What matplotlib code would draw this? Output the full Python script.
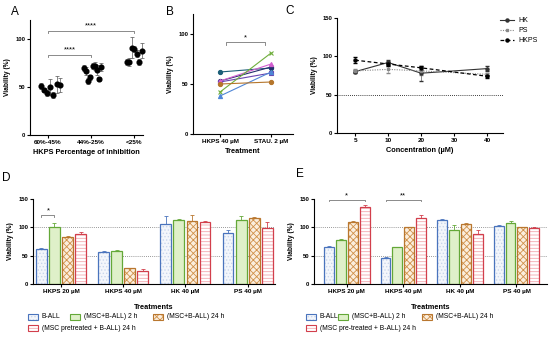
import numpy as np
import matplotlib
matplotlib.use('Agg')
import matplotlib.pyplot as plt
from matplotlib.patches import Rectangle
from matplotlib.lines import Line2D

plt.rcParams['font.family'] = ['Liberation Sans', 'DejaVu Sans']
plt.rcParams['hatch.linewidth'] = 0.6
plt.rcParams['axes.linewidth'] = 0.8

# ---- panel A data
a_groups = ['60%-45%', '44%-25%', '<25%']
a_vals = [[51, 47, 44, 50, 42, 53, 52],
          [70, 67, 56, 60, 72, 72, 68, 58, 71],
          [76, 76, 91, 90, 85, 76, 88]]
a_errs = [[3, 2, 3, 8, 3, 9, 7],
          [3, 4, 3, 3, 3, 4, 5, 2, 4],
          [3, 4, 11, 3, 4, 3, 8]]

# ---- panel B data (paired)
b_ticks = ['HKPS 40 µM', 'STAU. 2 µM']
b_hkps = [62, 53, 52, 53, 42, 38, 50]
b_stau = [66, 67, 61, 70, 81, 62, 52]
b_colors = ['#1d5f78', '#25306e', '#6a44b0', '#d25fcf', '#6fae3c', '#4f86d6', '#b5762c']
b_markers = ['o', 'o', 's', '^', 'x', '^', 'o']

# ---- panel C data
c_ticks = ['5', '10', '20', '30', '40']
c_conc = ['5', '10', '20', '40']
c_hk = [80, 92, 78, 84]
c_hk_err = [2, 3, 10, 3]
c_ps = [81, 83, 81, 76.5]
c_ps_err = [2, 5, 5, 2]
c_hkps = [95, 90, 85, 74]
c_hkps_err = [4, 2, 3, 2]

# ---- panels D / E data
treat = ['HKPS 20 µM', 'HKPS 40 µM', 'HK 40 µM', 'PS 40 µM']
d_ball = [62, 57, 106, 90]
d_ball_err = [2, 1, 14, 5]
d_2h = [100, 59, 113, 113]
d_2h_err = [8, 1, 2, 7]
d_24h = [83, 28, 111, 116]
d_24h_err = [1, 1, 11, 2]
d_pre = [88, 23, 109, 99]
d_pre_err = [4, 3, 3, 11]

e_ball = [66, 46, 113, 103]
e_ball_err = [1, 2, 1, 1]
e_2h = [78, 65, 96, 107]
e_2h_err = [2, 1, 8, 5]
e_24h = [109, 100, 106, 100]
e_24h_err = [3, 1, 1, 0.5]
e_pre = [136, 117, 89, 99]
e_pre_err = [3, 4, 7, 2]

d_labels = ['B-ALL', '(MSC+B-ALL) 2 h', '(MSC+B-ALL) 24 h', '(MSC pretreated + B-ALL) 24 h']
e_labels = ['B-ALL', '(MSC+B-ALL) 2 h', '(MSC+B-ALL) 24 h', '(MSC pre-treated + B-ALL) 24 h']

W, H = 550, 337
fig = plt.figure(figsize=(W / 100, H / 100), dpi=100)


def px_axes(l, t, r, b):
    return fig.add_axes([l / W, 1 - b / H, (r - l) / W, (b - t) / H])


def style(ax):
    for s in ['top', 'right']:
        ax.spines[s].set_visible(False)
    ax.tick_params(length=2, width=0.8, pad=1.5)
    for lbl in ax.get_xticklabels():
        lbl.set_fontsize(4.6)
        lbl.set_fontweight('bold')
    for lbl in ax.get_yticklabels():
        lbl.set_fontsize(4.2)
        lbl.set_fontweight('bold')


def bracket(ax, x0, x1, y, txt, drop=4, color='#777777'):
    ax.plot([x0, x0, x1, x1], [y - drop, y, y, y - drop], color=color, lw=0.6, clip_on=False)
    ax.text((x0 + x1) / 2, y + 1, txt, ha='center', va='bottom', fontsize=5.5, clip_on=False)


# ================= A
axA = px_axes(30, 20, 143, 135)
spreads = [(-0.17, 0.27), (-0.17, 0.23), (-0.17, 0.17)]
for i, (vals, errs) in enumerate(zip(a_vals, a_errs)):
    xs = i + np.linspace(spreads[i][0], spreads[i][1], len(vals))
    axA.errorbar(xs, vals, yerr=errs, fmt='o', color='black', ms=3.4,
                 ecolor='#555555', elinewidth=0.5, capsize=1.5, capthick=0.5, clip_on=False)
axA.set_xlim(-0.42, 2.2)
axA.set_ylim(0, 120)
axA.set_yticks([0, 50, 100])
axA.set_xticks(range(3))
axA.set_xticklabels(a_groups)
axA.set_ylabel('Viability (%)', fontsize=4.8, fontweight='bold', labelpad=3)
axA.set_xlabel('HKPS Percentage of inhibition', fontsize=5.3, fontweight='bold', labelpad=3)
style(axA)
bracket(axA, 0, 1, 84, '****', drop=3)
bracket(axA, 0, 2, 109, '****', drop=3)

# ================= B
axB = px_axes(193, 14, 293, 134)
for v0, v1, c, m in zip(b_hkps, b_stau, b_colors, b_markers):
    axB.plot([0, 1], [v0, v1], color=c, marker=m, ms=3, lw=0.8, mew=0.8)
axB.set_xlim(-0.53, 1.43)
axB.set_ylim(0, 120)
axB.set_yticks([0, 50, 100])
axB.set_xticks([0, 1])
axB.set_xticklabels(b_ticks)
axB.set_ylabel('Viability (%)', fontsize=4.8, fontweight='bold', labelpad=3)
axB.set_xlabel('Treatment', fontsize=5.3, fontweight='bold', labelpad=3)
style(axB)
bracket(axB, 0.12, 0.88, 92, '*', drop=3)

# ================= C
axC = px_axes(337, 18, 503, 133)
cx = [c_ticks.index(c) for c in c_conc]
c_styles = [
    (c_hk, c_hk_err, 'HK', dict(color='#333333', lw=0.8, ls='-', marker='o', ms=2.2)),
    (c_ps, c_ps_err, 'PS', dict(color='#888888', lw=0.8, ls=(0, (1, 1.2)), marker='s', ms=2)),
    (c_hkps, c_hkps_err, 'HKPS', dict(color='black', lw=0.9, ls=(0, (3, 2)), marker='o', ms=2.2)),
]
handles = []
for vals, err, lab, kw in c_styles:
    axC.errorbar(cx, vals, yerr=err, elinewidth=0.4, capsize=1.2, ecolor=kw['color'], **kw)
    handles.append(Line2D([], [], label=lab, **kw))
axC.axhline(50, color='black', lw=0.6, ls=(0, (1, 1.5)))
axC.set_xlim(-0.55, 4.48)
axC.set_ylim(0, 150)
axC.set_yticks([0, 50, 100, 150])
axC.set_xticks(range(len(c_ticks)))
axC.set_xticklabels(c_ticks)
axC.set_ylabel('Viability (%)', fontsize=4.8, fontweight='bold', labelpad=3)
axC.set_xlabel('Concentration (µM)', fontsize=5.3, fontweight='bold', labelpad=3)
style(axC)
axC.legend(handles=handles, loc='upper left', bbox_to_anchor=(494 / W, 1 - 11 / H),
           bbox_transform=fig.transFigure, frameon=False, fontsize=5, handlelength=2,
           labelspacing=0.45, handletextpad=0.6)

# ================= D / E
bar_styles = [
    dict(face='#f3f6fb', hatch='.....', hcol='#c9d6ec', edge='#4a74bd'),
    dict(face='#dff0c9', hatch=None, hcol=None, edge='#64a838'),
    dict(face='#fbeedd', hatch='xxxxx', hcol='#d0914a', edge='#b9772f'),
    dict(face='white', hatch='-----', hcol='#f3a9b0', edge='#d23f4c'),
]
BW, STEP = 0.175, 0.21


def bars(ax, series, errs):
    x = np.arange(len(treat))
    for k, (vals, err, st) in enumerate(zip(series, errs, bar_styles)):
        xs = x + (k - 1.5) * STEP
        ax.bar(xs, vals, BW, color=st['face'], hatch=st['hatch'],
               edgecolor=st['hcol'] if st['hatch'] else st['face'], lw=0, zorder=2)
        ax.bar(xs, vals, BW, fill=False, edgecolor=st['edge'], lw=0.9, zorder=3)
        ax.errorbar(xs, vals, yerr=[np.zeros(len(vals)), err], fmt='none', ecolor=st['edge'],
                    elinewidth=0.6, capsize=1.6, capthick=0.6, zorder=1)
    for y in (50, 100):
        ax.axhline(y, color='#777777', lw=0.6, ls=(0, (1, 1.5)), zorder=0)
    ax.set_ylim(0, 150)
    ax.set_yticks([0, 50, 100, 150])
    ax.set_xticks(x)
    ax.set_xticklabels(treat)
    ax.set_ylabel('Viability (%)', fontsize=4.8, fontweight='bold', labelpad=3)
    ax.set_xlabel('Treatments', fontsize=5.3, fontweight='bold', labelpad=7)
    style(ax)


axD = px_axes(33, 199, 275, 284)
bars(axD, [d_ball, d_2h, d_24h, d_pre], [d_ball_err, d_2h_err, d_24h_err, d_pre_err])
axD.set_xlim(-0.45, 3.44)
bracket(axD, -1.5 * STEP, -0.5 * STEP, 121, '*', drop=3)

axE = px_axes(314, 199, 547, 284)
bars(axE, [e_ball, e_2h, e_24h, e_pre], [e_ball_err, e_2h_err, e_24h_err, e_pre_err])
axE.set_xlim(-0.58, 3.54)
bracket(axE, -1.5 * STEP, 1.5 * STEP, 149, '*', drop=3)
bracket(axE, 1 - 1.5 * STEP, 1 + 1.5 * STEP, 149, '**', drop=3)


def legend_px(items, labels):
    # boxes placed at pixel positions (left edge, centre y)
    for (bx, by), st, lab in zip(items, bar_styles, labels):
        r = Rectangle((bx / W, 1 - (by + 3) / H), 10 / W, 6 / H, transform=fig.transFigure,
                      facecolor=st['face'], hatch=st['hatch'],
                      edgecolor=st['hcol'] if st['hatch'] else st['face'], lw=0)
        fig.patches.append(r)
        r2 = Rectangle((bx / W, 1 - (by + 3) / H), 10 / W, 6 / H, transform=fig.transFigure,
                       fill=False, edgecolor=st['edge'], lw=0.8)
        fig.patches.append(r2)
        fig.text((bx + 14) / W, 1 - by / H, lab, fontsize=4.9, va='center', ha='left')


legend_px([(28, 317), (70, 317), (153, 317), (28, 328)], d_labels)
legend_px([(306, 317), (338, 317), (422, 317), (306, 328)], e_labels)

# panel letters
for t, x, y in [('A', 15, 12), ('B', 170, 12), ('C', 290, 11), ('D', 6, 178), ('E', 300, 174)]:
    fig.text(x / W, 1 - y / H, t, fontsize=8.5, ha='center', va='center')

fig.savefig('out.png', dpi=100)
